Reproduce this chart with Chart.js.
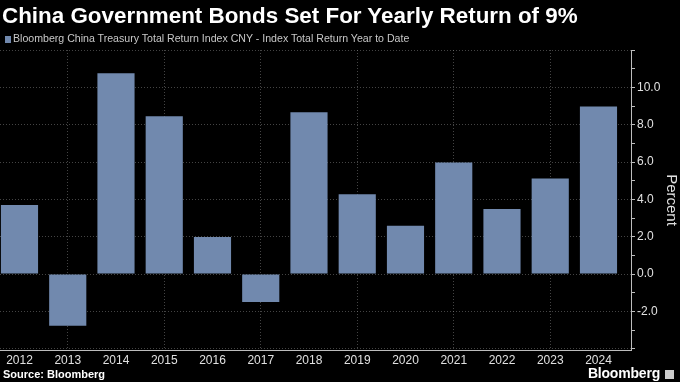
<!DOCTYPE html>
<html>
<head>
<meta charset="utf-8">
<script src="https://cdn.jsdelivr.net/npm/chart.js@4"></script>
<style>
    html, body { margin: 0; padding: 0; background: #000; }
    body { width: 680px; height: 382px; position: relative; overflow: hidden; font-family: 'Liberation Sans', Arial, sans-serif; }
    #wrap { position: absolute; left: 0; top: 0; width: 680px; height: 382px; }
    .title { position: absolute; left: 2px; top: 3px; color: #fff; font-weight: bold; font-size: 22.4px; white-space: nowrap; }
    .legend { position: absolute; left: 5px; top: 32px; color: #c8c8c8; font-size: 10.6px; white-space: nowrap; }
    .legend i { display: inline-block; width: 6px; height: 7px; background: #7189ae; margin-right: 2px; vertical-align: -1px; }
    .source { position: absolute; left: 3px; top: 368px; color: #fff; font-weight: bold; font-size: 11px; }
    .logo { position: absolute; right: 6px; top: 365px; color: #fff; font-size: 14px; font-weight: bold; letter-spacing: -0.2px; }
    .logo b { display: inline-block; width: 9px; height: 9px; background: #ccc; margin-left: 5px; vertical-align: -1px; }
</style>
</head>
<body>
<div id="wrap"><canvas id="chart" width="680" height="382"></canvas></div>
<div class="title">China Government Bonds Set For Yearly Return of 9%</div>
<div class="legend"><i></i>Bloomberg China Treasury Total Return Index CNY - Index Total Return Year to Date</div>
<div class="source">Source: Bloomberg</div>
<div class="logo">Bloomberg<b></b></div>
<script>
const years = [2012, 2013, 2014, 2015, 2016, 2017, 2018, 2019, 2020, 2021, 2022, 2023, 2024];
const returns = [3.7, -2.77, 10.75, 8.45, 1.98, -1.5, 8.66, 4.27, 2.59, 5.98, 3.48, 5.12, 8.98];
const seriesName = 'Bloomberg China Treasury Total Return Index CNY - Index Total Return Year to Date';

const GRID = 'rgba(150,150,150,.45)';
const AXIS = '#bdbdbd';
const FONT = 'Liberation Sans';

new Chart(document.getElementById('chart').getContext('2d'), {
    type: 'bar',
    data: {
        datasets: [{
            label: seriesName,
            data: years.map((y, i) => ({ x: y, y: returns[i] })),
            backgroundColor: '#7189ae',
            borderWidth: 0,
            categoryPercentage: 1,
            barPercentage: 0.77
        }]
    },
    options: {
        animation: false, responsive: false,
        layout: { padding: { top: 50, bottom: 16, left: 0, right: 0 } },
        plugins: { legend: { display: false }, tooltip: { enabled: false } },
        scales: {
            x: {
                type: 'linear', offset: false,
                min: 2011.596, max: 2024.674,
                afterFit: s => { s.height = 16; },
                ticks: {
                    stepSize: 1, includeBounds: false, autoSkip: false, maxRotation: 0,
                    color: '#e0e0e0', font: { family: FONT, size: 12 }, padding: 3,
                    callback: v => String(v)
                },
                grid: {
                    offset: false, drawTicks: false,
                    color: c => (c.tick && c.tick.value % 2 === 1) ? GRID : 'transparent'
                },
                border: { display: true, color: AXIS, width: 1, dash: [1, 2] }
            },
            y: {
                position: 'right',
                min: -4.07, max: 12,
                afterFit: s => { s.width = 49; },
                ticks: {
                    stepSize: 1, includeBounds: false,
                    color: '#e0e0e0', font: { family: FONT, size: 12 }, padding: 2,
                    callback: v => (v % 2 === 0 && v >= -2 && v <= 10) ? v.toFixed(1) : ''
                },
                grid: {
                    tickLength: 4, tickColor: AXIS,
                    color: c => (c.tick && c.tick.value % 2 === 0) ? GRID : 'transparent'
                },
                border: { display: true, color: AXIS, width: 1, dash: [1, 2] },
                title: {
                    display: true, text: 'Percent', color: '#e0e0e0',
                    font: { family: FONT, size: 15 }, padding: 0
                }
            }
        }
    }
});
</script>
</body>
</html>
